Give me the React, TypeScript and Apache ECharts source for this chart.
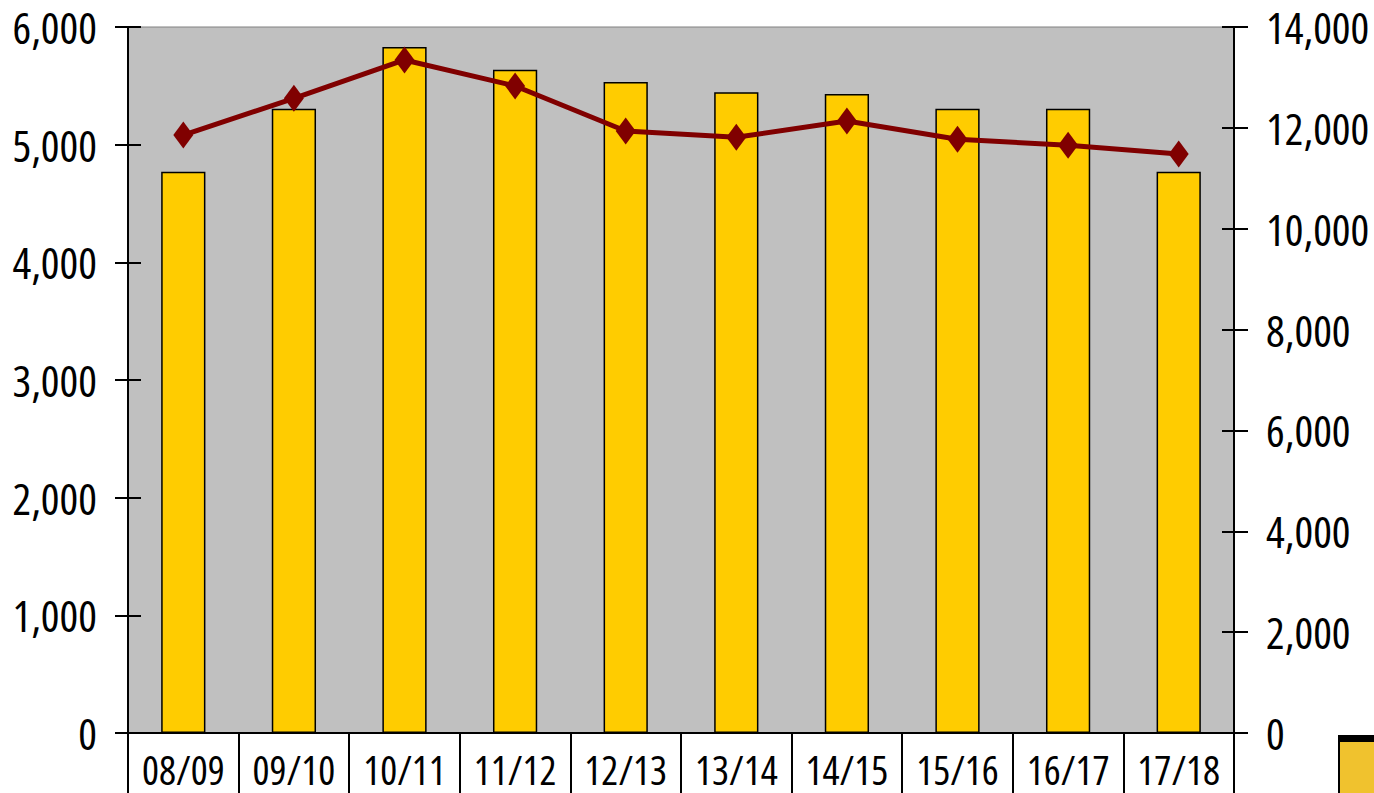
import React, { useEffect, useRef } from "react";
import * as echarts from "echarts";

const categories = ["08/09", "09/10", "10/11", "11/12", "12/13", "13/14", "14/15", "15/16", "16/17", "17/18"];
const barValues = [4770, 5306, 5830, 5637, 5532, 5445, 5430, 5306, 5306, 4770];
const lineValues = [11858, 12586, 13346, 12830, 11938, 11812, 12136, 11773, 11654, 11481];

const FONT = "'Open Sans', sans-serif";

export default function App() {
  const ref = useRef<HTMLDivElement>(null);
  useEffect(() => {
    document.body.style.margin = "0";
    const chart = echarts.init(ref.current!, null, { renderer: "svg" });
    const fmt = (v: number) => v.toLocaleString("en-US");
    chart.setOption({
      animation: false,
      backgroundColor: "#ffffff",
      grid: {
        left: 128,
        right: 140,
        top: 27,
        bottom: 60,
        containLabel: false,
        outerBoundsMode: "none",
        show: true,
        backgroundColor: "#C0C0C0",
        borderColor: "#808080",
        borderWidth: 1,
      },
      xAxis: {
        type: "category",
        data: categories,
        boundaryGap: true,
        axisLine: { show: true, lineStyle: { color: "#000", width: 2 } },
        axisTick: { show: true, length: 62, lineStyle: { color: "#000", width: 2 } },
        axisLabel: { color: "#000", fontFamily: FONT, fontSize: 40, lineHeight: 40, margin: 16, interval: 0 },
        splitLine: { show: false },
      },
      yAxis: [
        {
          type: "value",
          position: "left",
          min: 0,
          max: 6000,
          interval: 1000,
          axisLine: { show: true, lineStyle: { color: "#000", width: 2 } },
          axisTick: { show: true, length: 13, lineStyle: { color: "#000", width: 2 } },
          axisLabel: { color: "#000", fontFamily: FONT, fontSize: 44, lineHeight: 40, margin: 31, formatter: fmt },
          splitLine: { show: false },
        },
        {
          type: "value",
          position: "right",
          min: 0,
          max: 14000,
          interval: 2000,
          axisLine: { show: true, lineStyle: { color: "#000", width: 2 } },
          axisTick: { show: true, length: 14, lineStyle: { color: "#000", width: 2 } },
          axisLabel: { color: "#000", fontFamily: FONT, fontSize: 44, lineHeight: 40, margin: 32, formatter: fmt },
          splitLine: { show: false },
        },
        {
          type: "value",
          position: "left",
          min: 0,
          max: 6000,
          interval: 1000,
          axisLine: { show: false },
          axisTick: { show: true, inside: true, length: 13, lineStyle: { color: "#000", width: 2 } },
          axisLabel: { show: false },
          splitLine: { show: false },
        },
        {
          type: "value",
          position: "right",
          min: 0,
          max: 14000,
          interval: 2000,
          axisLine: { show: false },
          axisTick: { show: true, inside: true, length: 12, lineStyle: { color: "#000", width: 2 } },
          axisLabel: { show: false },
          splitLine: { show: false },
        },
      ],
      series: [
        {
          type: "bar",
          yAxisIndex: 0,
          data: barValues,
          barWidth: "40%",
          itemStyle: { color: "#FFCC00", borderColor: "#000", borderWidth: 1.5 },
        },
        {
          type: "line",
          yAxisIndex: 1,
          data: lineValues,
          symbol: "diamond",
          symbolSize: [20, 27],
          lineStyle: { color: "#800000", width: 5 },
          itemStyle: { color: "#800000" },
        },
      ],
      graphic: [
        { type: "rect", shape: { x: 1338, y: 735, width: 40, height: 60 }, style: { fill: "#000" } },
        { type: "rect", shape: { x: 1340, y: 742, width: 40, height: 60 }, style: { fill: "#F0C22E" } },
      ],
    });
    return () => chart.dispose();
  }, []);
  return (
    <>
      <style>{`.cx text { font-stretch: 75% !important; }`}</style>
      <div className="cx" ref={ref} style={{ width: 1374, height: 793 }} />
    </>
  );
}
